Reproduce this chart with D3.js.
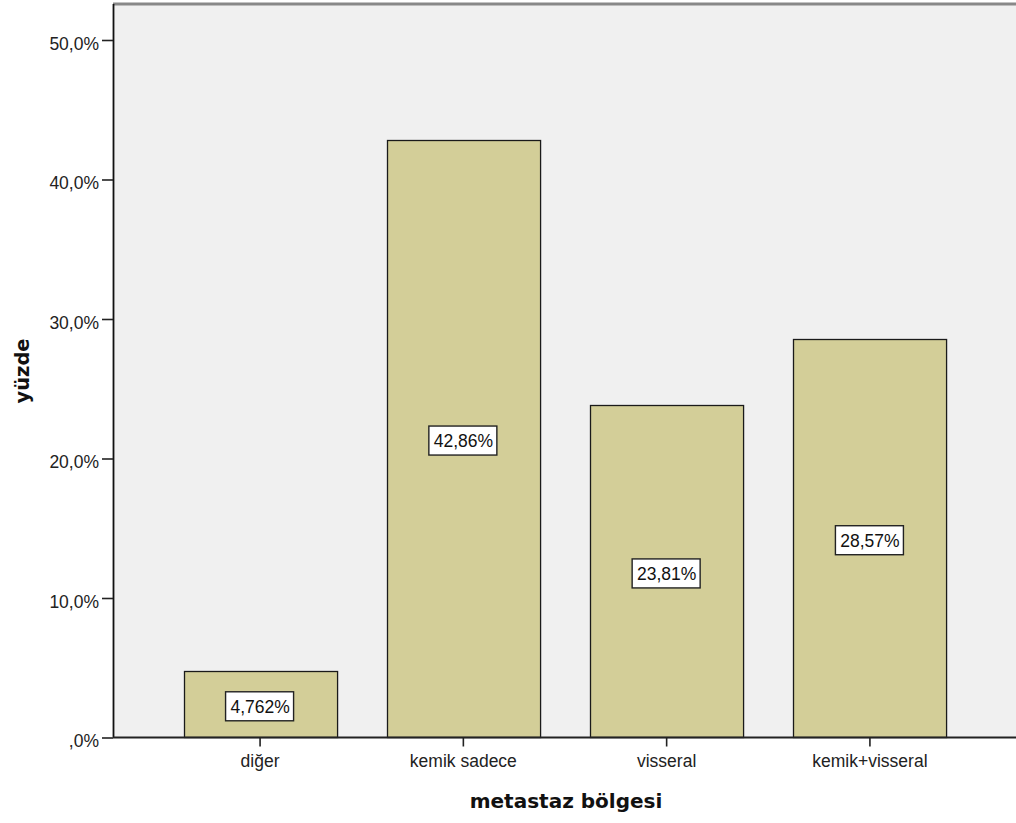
<!DOCTYPE html>
<html><head><meta charset="utf-8">
<script src="https://cdn.jsdelivr.net/npm/d3@7"></script>
<style>body{margin:0;background:#fff;} svg{display:block;}</style>
</head><body>
<svg id="c" width="1016" height="823"></svg>
<script>
const categories = ["diğer", "kemik sadece", "visseral", "kemik+visseral"];
const values = [4.762, 42.86, 23.81, 28.57];
const valueLabels = ["4,762%", "42,86%", "23,81%", "28,57%"];
const yTicks = [0, 10, 20, 30, 40, 50];
const yTickLabels = [",0%", "10,0%", "20,0%", "30,0%", "40,0%", "50,0%"];

const FONT = "Liberation Sans, Arial, sans-serif";
const svg = d3.select("#c");
const L = 113, R = 1017, T = 4, B = 737.5;
const x = d3.scaleBand().domain(categories).range([L, R]).paddingInner(0.247).paddingOuter(0.347);
const y = d3.scaleLinear().domain([0, 52.58]).range([B, T]);

svg.append("rect").attr("x", L).attr("y", T).attr("width", R - L).attr("height", B - T).attr("fill", "#f0f0f0");
svg.append("line").attr("x1", L).attr("x2", R).attr("y1", T).attr("y2", T).attr("stroke", "#888").attr("stroke-width", 3);

// bars
svg.selectAll("rect.bar").data(values).join("rect").attr("class", "bar")
  .attr("x", (d, i) => Math.round(x(categories[i])) + 0.5)
  .attr("y", d => Math.round(y(d)) + 0.5)
  .attr("width", x.bandwidth())
  .attr("height", d => B - Math.round(y(d)) - 0.5)
  .attr("fill", "#d3ce98").attr("stroke", "#1a1a1a").attr("stroke-width", 1.3);

// value labels
const lg = svg.selectAll("g.lab").data(values).join("g").attr("class", "lab")
  .attr("transform", (d, i) => `translate(${x(categories[i]) + x.bandwidth() / 2},${y(d / 2) + 2})`);
lg.each(function(d, i) {
  const g = d3.select(this);
  const t = g.append("text").text(valueLabels[i]).attr("text-anchor", "middle").attr("dy", "0.36em")
    .attr("font-family", FONT).attr("font-size", 17.5).attr("fill", "#111");
  const bb = t.node().getBBox();
  g.insert("rect", "text").attr("x", -Math.round(bb.width / 2) - 4.5).attr("y", -14.5)
    .attr("width", Math.round(bb.width) + 9).attr("height", 29)
    .attr("fill", "#fff").attr("stroke", "#222").attr("stroke-width", 1.4);
});

// y axis
const yAxis = d3.axisLeft(y).tickValues(yTicks).tickFormat((d, i) => yTickLabels[i]).tickSize(11).tickPadding(3);
const ga = svg.append("g").attr("transform", `translate(${L},0)`).call(yAxis);
ga.select(".domain").attr("stroke", "#111").attr("stroke-width", 1.8).attr("d", `M0.5,${T}V${B}`);
ga.selectAll(".tick line").attr("stroke", "#222").attr("stroke-width", 1.6);
ga.selectAll("text").attr("font-family", FONT).attr("font-size", 17.5).attr("fill", "#222").attr("dy", "0.53em");

// x axis
const xAxis = d3.axisBottom(x).tickSize(9).tickPadding(4);
const gx = svg.append("g").attr("transform", `translate(0,${B})`).call(xAxis);
gx.select(".domain").attr("stroke", "#222").attr("stroke-width", 1.8).attr("d", `M${L},0H${R}`);
gx.selectAll(".tick line").attr("stroke", "#222").attr("stroke-width", 1.6);
gx.selectAll("text").attr("font-family", FONT).attr("font-size", 17.5).attr("fill", "#222").attr("y", 17).attr("dy", "0.71em");

// titles
svg.append("text").text("metastaz bölgesi").attr("x", 566).attr("y", 808).attr("text-anchor", "middle")
  .attr("font-family", "DejaVu Sans, Verdana, sans-serif").attr("font-weight", "bold").attr("font-size", 20).attr("fill", "#111");
svg.append("text").text("yüzde").attr("transform", "translate(29,371) rotate(-90)").attr("text-anchor", "middle")
  .attr("font-family", "DejaVu Sans, Verdana, sans-serif").attr("font-weight", "bold").attr("font-size", 19.5).attr("fill", "#111");
</script>
</body></html>
